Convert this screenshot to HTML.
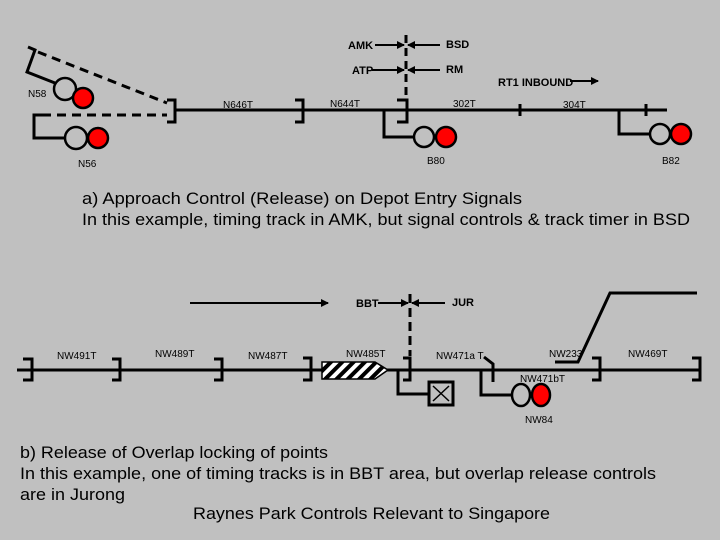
<!DOCTYPE html>
<html><head><style>body{margin:0;background:#c0c0c0}svg{display:block}</style></head>
<body>
<svg width="720" height="540" viewBox="0 0 720 540" xmlns="http://www.w3.org/2000/svg" font-family="Liberation Sans, sans-serif">
<defs><marker id="ar" markerWidth="8" markerHeight="8" refX="7" refY="4" orient="auto" markerUnits="userSpaceOnUse"><path d="M0,0 L8,4 L0,8 z" fill="#000"/></marker>
<pattern id="hat" width="8" height="8" patternUnits="userSpaceOnUse" patternTransform="rotate(45)"><rect width="8" height="8" fill="#fff"/><rect width="4" height="8" fill="#000"/></pattern></defs>
<rect width="720" height="540" fill="#c0c0c0"/>
<g stroke="#000" stroke-width="3" fill="none">
<line x1="175" y1="110" x2="667" y2="110"/>
<path d="M167,100 H175 V122 H167"/>
<path d="M295,100 H303 V122 H295"/>
<path d="M397,100 H407 V122 H397"/>
<line x1="406" y1="35" x2="406" y2="100" stroke-dasharray="8,5"/>
<line x1="520" y1="104" x2="520" y2="116"/>
<line x1="646" y1="104" x2="646" y2="116"/>
<path d="M384,110 V137 H414"/>
<path d="M619,110 V134 H650"/>
<path d="M28,47 L35,50 L27,72 L55,83"/>
<line x1="38" y1="52" x2="167" y2="103" stroke-dasharray="9,6"/>
<line x1="42" y1="115" x2="167" y2="115" stroke-dasharray="9,6"/>
<path d="M42,115 H34 V138 H66"/>
</g>
<g stroke="#000" stroke-width="2" fill="none">
<line x1="375" y1="45" x2="404" y2="45" marker-end="url(#ar)"/>
<line x1="440" y1="45" x2="408" y2="45" marker-end="url(#ar)"/>
<line x1="372" y1="70" x2="404" y2="70" marker-end="url(#ar)"/>
<line x1="440" y1="70" x2="408" y2="70" marker-end="url(#ar)"/>
<line x1="570" y1="81" x2="598" y2="81" marker-end="url(#ar)"/>
<line x1="190" y1="303" x2="328" y2="303" marker-end="url(#ar)"/>
<line x1="378" y1="303" x2="408" y2="303" marker-end="url(#ar)"/>
<line x1="445" y1="303" x2="412" y2="303" marker-end="url(#ar)"/>
</g>
<g stroke="#000" stroke-width="2.5">
<circle cx="65" cy="89" r="11" fill="#c0c0c0"/><circle cx="83" cy="98" r="10" fill="#f00"/>
<circle cx="76" cy="138" r="11" fill="#c0c0c0"/><circle cx="98" cy="138" r="10" fill="#f00"/>
<circle cx="424" cy="137" r="10" fill="#c0c0c0"/><circle cx="446" cy="137" r="10" fill="#f00"/>
<circle cx="660" cy="134" r="10" fill="#c0c0c0"/><circle cx="681" cy="134" r="10" fill="#f00"/>
</g>
<g stroke="#000" stroke-width="3" fill="none">
<line x1="17" y1="370" x2="700" y2="370"/>
<path d="M23,359 H32 V380 H23"/>
<path d="M112,359 H120 V380 H112"/>
<path d="M214,359 H222 V380 H214"/>
<path d="M303,358 H311 V380 H303"/>
<path d="M403,358 H410 V380 H403"/>
<path d="M592,358 H600 V380 H592"/>
<path d="M692,358 H700 V380 H692"/>
<line x1="410" y1="294" x2="410" y2="356" stroke-dasharray="9,5"/>
<path d="M398,370 V394 H428"/>
<path d="M481,370 V395 H511"/>
<path d="M484,357 L493,364 V382"/>
<path d="M555,362 H578 L610,293 H697"/>
</g>
<path d="M322,362 H375 L388,370 L375,379 H322 Z" fill="url(#hat)" stroke="#000" stroke-width="1.5"/>
<rect x="429" y="382" width="24" height="23" fill="#c0c0c0" stroke="#000" stroke-width="3"/>
<path d="M433,386 L449,401 M449,386 L433,401" stroke="#000" stroke-width="1.5"/>
<ellipse cx="521" cy="395" rx="9" ry="11" fill="#c0c0c0" stroke="#000" stroke-width="2.5"/>
<ellipse cx="541" cy="395" rx="9" ry="11" fill="#f00" stroke="#000" stroke-width="2.5"/>
<g font-size="10" fill="#000">
<text x="28" y="97">N58</text><text x="78" y="167">N56</text>
<text x="223" y="108">N646T</text><text x="330" y="107">N644T</text>
<text x="453" y="107">302T</text><text x="563" y="108">304T</text>
<text x="427" y="164">B80</text><text x="662" y="164">B82</text>
<text x="57" y="359">NW491T</text><text x="155" y="357">NW489T</text>
<text x="248" y="359">NW487T</text><text x="346" y="357">NW485T</text>
<text x="436" y="359">NW471a T</text><text x="549" y="357">NW233</text>
<text x="628" y="357">NW469T</text><text x="520" y="382">NW471bT</text>
<text x="525" y="423">NW84</text>
</g>
<g font-size="11" font-weight="bold" fill="#000">
<text x="348" y="49">AMK</text><text x="446" y="48">BSD</text>
<text x="352" y="74">ATP</text><text x="446" y="73">RM</text>
<text x="498" y="86">RT1 INBOUND</text>
<text x="356" y="307">BBT</text><text x="452" y="306">JUR</text>
</g>
<g font-size="17" fill="#000">
<text x="82" y="204" textLength="440" lengthAdjust="spacingAndGlyphs">a)  Approach Control (Release) on Depot Entry Signals</text>
<text x="82" y="225" textLength="608" lengthAdjust="spacingAndGlyphs">In this example, timing track in AMK, but signal controls &amp; track timer in BSD</text>
<text x="20" y="458" textLength="308" lengthAdjust="spacingAndGlyphs">b) Release of Overlap locking of points</text>
<text x="20" y="479" textLength="636" lengthAdjust="spacingAndGlyphs">In this example, one of timing tracks is in BBT area, but overlap release controls</text>
<text x="20" y="500" textLength="105" lengthAdjust="spacingAndGlyphs">are in Jurong</text>
<text x="193" y="519" textLength="357" lengthAdjust="spacingAndGlyphs">Raynes Park Controls Relevant to Singapore</text>
</g>
</svg>
</body></html>
